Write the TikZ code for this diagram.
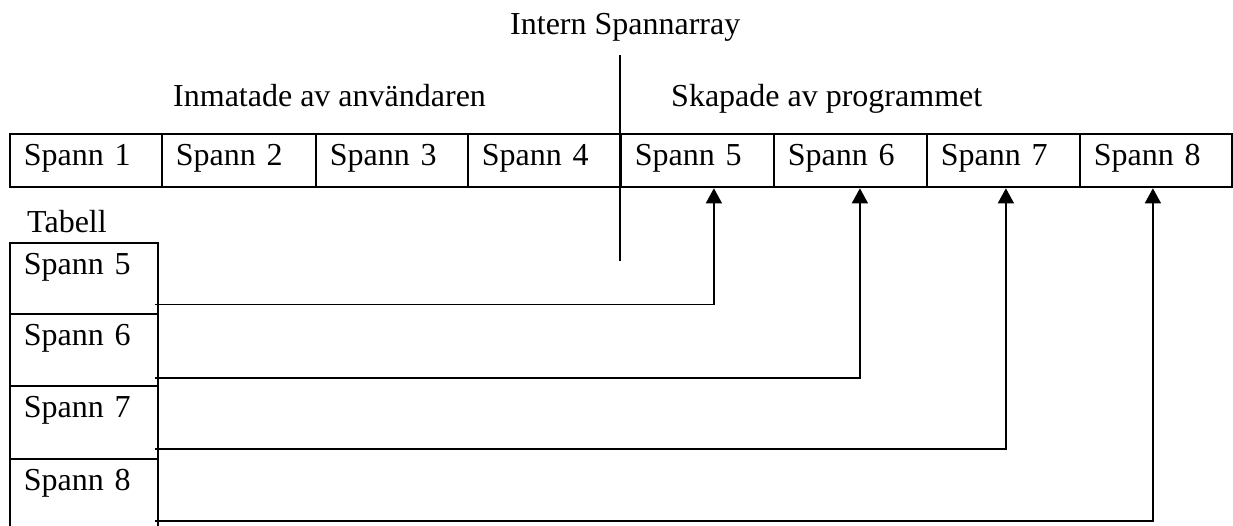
\documentclass[tikz,border=0pt]{standalone}
\usepackage{fontspec}
\setmainfont{Liberation Serif}
\usetikzlibrary{arrows.meta}

\begin{document}
\begin{tikzpicture}[x=1pt, y=-1pt,
  every node/.style={font=\fontsize{32}{38}\selectfont, inner sep=0pt},
  label/.style={anchor=base west},
  rowcell/.style={draw, line width=1.8pt, anchor=north west, align=left,
    inner xsep=14pt, inner ysep=0pt, text height=32pt, text depth=21.5pt},
  tabcell/.style={draw, line width=1.8pt, anchor=north west, align=left,
    inner xsep=14pt, inner ysep=0pt, text width=120pt,
    text height=32pt},
  link/.style={line width=1.4pt, -{Triangle[width=16pt,length=15pt]}},
  plain/.style={line width=1.4pt}]

\clip (0,0) rectangle (1233,526);
\fill[white] (0,0) rectangle (1233,526);

% headings
\node[label] (intern) at (510,35) {Intern Spannarray};
\node[label] (user)   at (173,106.5) {Inmatade av användaren};
\node[label] (prog)   at (671,106.5) {Skapade av programmet};
\node[label] (tabell) at (27,233) {Tabell};

% internal span array
\foreach \i/\l/\r in {1/9/161, 2/161/315, 3/315/467, 4/467/620,
                      5/620/773, 6/773/926, 7/926/1079, 8/1079/1231} {
  \pgfmathsetmacro{\w}{\r-\l-28}
  \node[rowcell, text width=\w pt] (t\i) at (\l,133) {Spann \i};
}

% table of generated spans
\node[tabcell, text depth=39pt] (b5) at (9,242) {Spann 5};
\node[tabcell, text depth=40pt] (b6) at (9,313) {Spann 6};
\node[tabcell, text depth=41pt] (b7) at (9,385) {Spann 7};
\node[tabcell, text depth=40pt] (b8) at (9,458) {Spann 8};

% divider between user and program spans
\coordinate (d1) at (620,55);
\coordinate (d2) at (620,261);
\draw[plain] (d1) -- (d2);

% table entries point to their slots in the array
\draw[link] ([xshift=-4pt, yshift=10pt]b5.south east) -| ([xshift=16.5pt]t5.south);
\draw[link] ([xshift=-4pt, yshift=9pt]b6.south east)  -| ([xshift=9.5pt]t6.south);
\draw[link] ([xshift=-4pt, yshift=11pt]b7.south east) -| ([xshift=2.5pt]t7.south);
\draw[link] ([xshift=-4pt, yshift=11pt]b8.south east) -| ([xshift=-3pt]t8.south);
\end{tikzpicture}
\end{document}
